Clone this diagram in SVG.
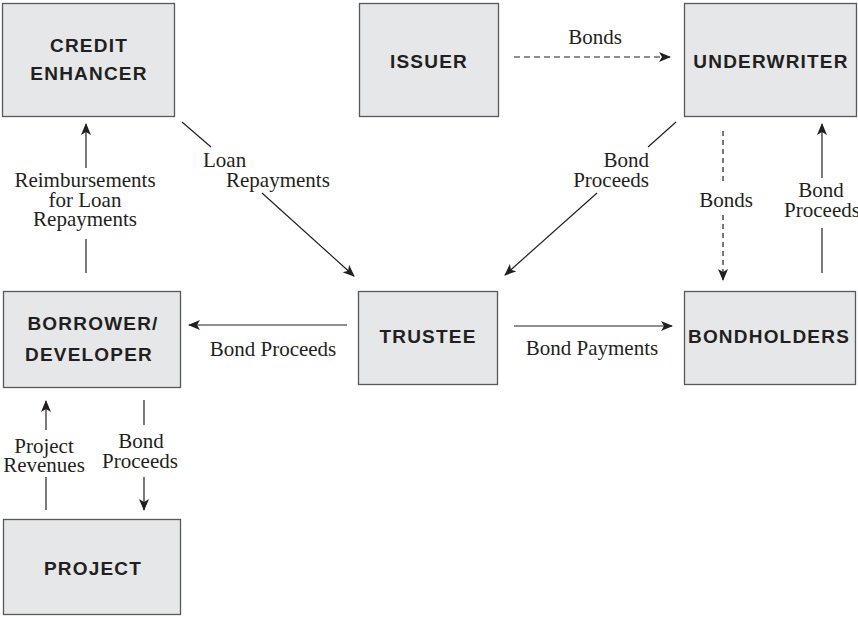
<svg xmlns="http://www.w3.org/2000/svg" width="858" height="617" viewBox="0 0 858 617">
<defs>
<marker id="ah" viewBox="0 0 12 10" refX="11" refY="5" markerWidth="12" markerHeight="10" markerUnits="userSpaceOnUse" orient="auto">
<path d="M0,0 L12,5 L0,10 L3,5 z" fill="#231f20"/>
</marker>
<style>
.box{fill:#e6e7e8;stroke:#58595b;stroke-width:1.3}
.nt{font-family:"Liberation Sans",Arial,sans-serif;font-weight:bold;font-size:19px;letter-spacing:1.2px;fill:#231f20;text-anchor:middle}
.lb{font-family:"Liberation Serif","Times New Roman",serif;font-size:21px;fill:#231f20}
.ln{stroke:#231f20;stroke-width:1.2;fill:none}
.ds{stroke-dasharray:6,4}
.dv{stroke-dasharray:5,4}
</style>
</defs>
<rect width="858" height="617" fill="#ffffff"/>
<g id="credit-enhancer">
<rect class="box" x="2.5" y="3.5" width="172" height="113"/>
<text class="nt" x="89" y="52">CREDIT</text>
<text class="nt" x="89" y="80">ENHANCER</text>
</g>
<g id="issuer">
<rect class="box" x="359.5" y="3.5" width="139" height="113"/>
<text class="nt" x="429" y="68">ISSUER</text>
</g>
<g id="underwriter">
<rect class="box" x="684.5" y="3.5" width="172" height="113"/>
<text class="nt" x="771" y="68">UNDERWRITER</text>
</g>
<g id="borrower-developer">
<rect class="box" x="3.5" y="291.5" width="177" height="96"/>
<text class="nt" x="93" y="330">BORROWER/</text>
<text class="nt" x="89" y="361">DEVELOPER</text>
</g>
<g id="trustee">
<rect class="box" x="358.5" y="291.5" width="139" height="93"/>
<text class="nt" x="428" y="343">TRUSTEE</text>
</g>
<g id="bondholders">
<rect class="box" x="684.5" y="291.5" width="171" height="93"/>
<text class="nt" x="769" y="343">BONDHOLDERS</text>
</g>
<g id="project">
<rect class="box" x="3.5" y="519.5" width="177" height="95"/>
<text class="nt" x="93" y="575">PROJECT</text>
</g>
<g id="connectors">
<!-- Issuer -> Underwriter Bonds -->
<line class="ln ds" x1="514" y1="57" x2="670" y2="57" marker-end="url(#ah)"/>
<text class="lb" x="595" y="44" text-anchor="middle">Bonds</text>
<!-- Credit Enhancer -> Trustee Loan Repayments -->
<line class="ln" x1="182" y1="122" x2="211" y2="147"/>
<line class="ln" x1="262" y1="193" x2="354" y2="276" marker-end="url(#ah)"/>
<text class="lb" x="203" y="167">Loan</text>
<text class="lb" x="226" y="187">Repayments</text>
<!-- Borrower -> Credit Enhancer Reimbursements -->
<line class="ln" x1="86" y1="168" x2="86" y2="124" marker-end="url(#ah)"/>
<line class="ln" x1="86" y1="239" x2="86" y2="273"/>
<text class="lb" x="85" y="187" text-anchor="middle">Reimbursements</text>
<text class="lb" x="85" y="207" text-anchor="middle">for Loan</text>
<text class="lb" x="85" y="226" text-anchor="middle">Repayments</text>
<!-- Underwriter -> Trustee Bond Proceeds -->
<line class="ln" x1="676" y1="122" x2="648" y2="147"/>
<line class="ln" x1="597" y1="193" x2="505" y2="275" marker-end="url(#ah)"/>
<text class="lb" x="649" y="167" text-anchor="end">Bond</text>
<text class="lb" x="649" y="187" text-anchor="end">Proceeds</text>
<!-- Underwriter -> Bondholders Bonds -->
<line class="ln dv" x1="723" y1="131" x2="723" y2="185"/>
<line class="ln dv" x1="723" y1="215" x2="723" y2="280" marker-end="url(#ah)"/>
<text class="lb" x="726" y="207" text-anchor="middle">Bonds</text>
<!-- Bondholders -> Underwriter Bond Proceeds -->
<line class="ln" x1="822" y1="178" x2="822" y2="124" marker-end="url(#ah)"/>
<line class="ln" x1="822" y1="228" x2="822" y2="273"/>
<text class="lb" x="821" y="197" text-anchor="middle">Bond</text>
<text class="lb" x="822" y="217" text-anchor="middle">Proceeds</text>
<!-- Trustee -> Borrower Bond Proceeds -->
<line class="ln" x1="347" y1="325" x2="189" y2="325" marker-end="url(#ah)"/>
<text class="lb" x="273" y="356" text-anchor="middle">Bond Proceeds</text>
<!-- Trustee -> Bondholders Bond Payments -->
<line class="ln" x1="514" y1="326" x2="672" y2="326" marker-end="url(#ah)"/>
<text class="lb" x="592" y="355" text-anchor="middle">Bond Payments</text>
<!-- Project -> Borrower Project Revenues -->
<line class="ln" x1="46" y1="430" x2="46" y2="401" marker-end="url(#ah)"/>
<line class="ln" x1="46" y1="477" x2="46" y2="510"/>
<text class="lb" x="44" y="453" text-anchor="middle">Project</text>
<text class="lb" x="44" y="472" text-anchor="middle">Revenues</text>
<!-- Borrower -> Project Bond Proceeds -->
<line class="ln" x1="144" y1="400" x2="144" y2="425"/>
<line class="ln" x1="144" y1="477" x2="144" y2="510" marker-end="url(#ah)"/>
<text class="lb" x="141" y="448" text-anchor="middle">Bond</text>
<text class="lb" x="140" y="468" text-anchor="middle">Proceeds</text>
</g>
</svg>
